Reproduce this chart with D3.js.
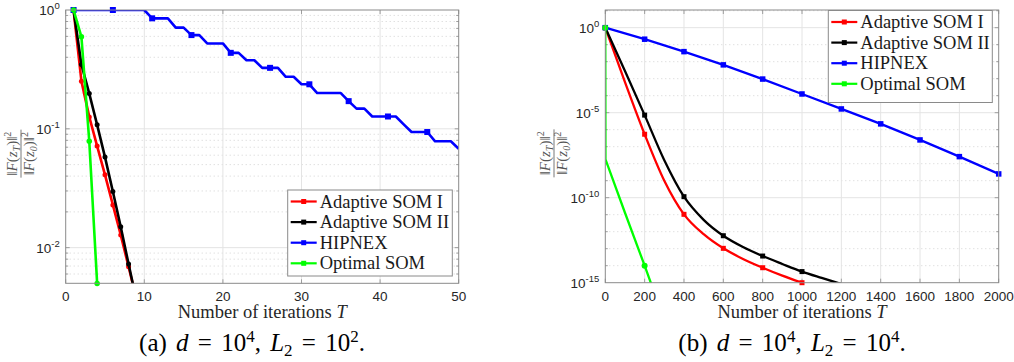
<!DOCTYPE html>
<html>
<head>
<meta charset="utf-8">
<script src="https://cdn.jsdelivr.net/npm/d3@7"></script>
<style>
  body { margin: 0; background: #fff; }
  svg { display: block; }
  .tick-label { font-family: 'Liberation Sans', Arial, sans-serif; font-size: 13.5px; fill: #262626; }
  .serif { font-family: 'Liberation Serif', 'Times New Roman', serif; }
</style>
</head>
<body>
<div id="chart"></div>
<script>
// ---- panel (a): d = 1e4, L2 = 1e2 ----
const aSom1Iter = [1, 2, 3, 4, 5, 6, 7, 8, 9];
const aSom1Val = [1, 0.252, 0.126, 0.0716, 0.041, 0.0229, 0.0128, 0.0069, 0.0037];
const aSom2Iter = [1, 2, 3, 4, 5, 6, 7, 8, 9];
const aSom2Val = [1, 0.348, 0.198, 0.108, 0.0578, 0.0297, 0.0150, 0.00728, 0.0036];
const aOptIter = [1, 2, 3, 4];
const aOptVal = [1, 0.595, 0.0785, 0.005];
// HIPNEX, iterations 1..50
const aHipVal = [
  1, 1, 1, 1, 1, 1, 1, 1, 1, 1,
  0.851, 0.851, 0.851, 0.71, 0.71, 0.615, 0.615, 0.523, 0.523, 0.523,
  0.436, 0.436, 0.378, 0.378, 0.326, 0.326, 0.326, 0.274, 0.274, 0.237,
  0.237, 0.2, 0.2, 0.2, 0.2, 0.171, 0.148, 0.148, 0.127, 0.127,
  0.127, 0.127, 0.109, 0.094, 0.094, 0.094, 0.0785, 0.0785, 0.0785, 0.068
];
const aXTicks = [0, 10, 20, 30, 40, 50];
const aYTicks = [0, -1, -2];   // exponents

// ---- panel (b): d = 1e4, L2 = 1e4 ----
const bSom1Iter = [0, 100, 200, 300, 400, 500, 600, 700, 800, 900, 1000];
const bSom1Val = [1, 6.3e-4, 5.4e-7, 1.0e-9, 1.05e-11, 7.1e-13, 1.05e-13, 2.5e-14, 7.6e-15, 2.6e-15, 1.0e-15];
const bSom2Iter = [0, 100, 200, 300, 400, 500, 600, 700, 800, 900, 1000, 1100, 1200];
const bSom2Val = [1, 2.8e-3, 7.2e-6, 1.6e-8, 1.15e-10, 5.0e-12, 5.8e-13, 1.26e-13, 3.7e-14, 1.26e-14, 4.5e-15, 1.9e-15, 8.3e-16];
const bHipIter = [0, 200, 400, 600, 800, 1000, 1200, 1400, 1600, 1800, 2000];
const bHipVal = [1, 0.21, 0.039, 6.5e-3, 9.5e-4, 1.26e-4, 1.66e-5, 2.2e-6, 2.5e-7, 2.6e-8, 2.5e-9];
const bOptIter = [0, 1, 100, 200, 250];
const bOptVal = [1, 1.8e-8, 1.3e-11, 1.0e-14, 2.5e-16];
const bXTicks = [0, 200, 400, 600, 800, 1000, 1200, 1400, 1600, 1800, 2000];
const bYTicks = [0, -5, -10, -15];

const legendNames = ['Adaptive SOM I', 'Adaptive SOM II', 'HIPNEX', 'Optimal SOM'];
const colors = ['#ff0000', '#000000', '#0000ff', '#00ff00'];

const width = 1014, height = 362;
const svg = d3.select('#chart').append('svg')
  .attr('width', width)
  .attr('height', height);

function zip(xs, ys) { return xs.map((x, i) => ({ x, y: ys[i] })); }

function drawPanel(p) {
  const { left, right, top, bottom } = p.box;
  const x = d3.scaleLinear().domain(p.xDomain).range([left, right]);
  const y = d3.scaleLog().domain(p.yDomain).range([bottom, top]);
  const g = svg.append('g');

  // minor grid (dotted)
  g.append('g').selectAll('line')
    .data(p.minorY)
    .join('line')
    .attr('x1', left).attr('x2', right)
    .attr('y1', d => y(d)).attr('y2', d => y(d))
    .attr('stroke', '#c8c8c8')
    .attr('stroke-width', 0.8)
    .attr('stroke-dasharray', '1,3');

  // major grid
  const majorY = p.yTicks.map(e => Math.pow(10, e)).filter(v => y(v) > top + 1 && y(v) < bottom - 1);
  g.append('g').selectAll('line')
    .data(majorY)
    .join('line')
    .attr('x1', left).attr('x2', right)
    .attr('y1', d => y(d)).attr('y2', d => y(d))
    .attr('stroke', '#e4e4e4');
  g.append('g').selectAll('line')
    .data(p.xTicks.slice(1, -1))
    .join('line')
    .attr('x1', d => x(d)).attr('x2', d => x(d))
    .attr('y1', top).attr('y2', bottom)
    .attr('stroke', '#e4e4e4');

  // tick marks (inward, on all four sides)
  const ticks = g.append('g').attr('stroke', '#8a8a8a').attr('stroke-width', 0.8);
  p.xTicks.forEach(t => {
    ticks.append('line').attr('x1', x(t)).attr('x2', x(t)).attr('y1', bottom).attr('y2', bottom - 4);
    ticks.append('line').attr('x1', x(t)).attr('x2', x(t)).attr('y1', top).attr('y2', top + 4);
  });
  p.minorY.concat(majorY).forEach(v => {
    const len = p.minorY.includes(v) ? 2.5 : 4;
    ticks.append('line').attr('x1', left).attr('x2', left + len).attr('y1', y(v)).attr('y2', y(v));
    ticks.append('line').attr('x1', right).attr('x2', right - len).attr('y1', y(v)).attr('y2', y(v));
  });

  // x tick labels
  g.append('g').selectAll('text')
    .data(p.xTicks)
    .join('text')
    .attr('class', 'tick-label')
    .attr('x', d => x(d))
    .attr('y', bottom + 18)
    .attr('text-anchor', 'middle')
    .text(d => d);

  // y tick labels 10^e
  const yl = g.append('g').selectAll('text')
    .data(p.yTicks)
    .join('text')
    .attr('class', 'tick-label')
    .attr('x', left - 6)
    .attr('y', d => y(Math.pow(10, d)) + 5)
    .attr('text-anchor', 'end');
  yl.append('tspan').text('10');
  yl.append('tspan').attr('dy', -6).attr('font-size', 9.5).text(d => d);

  // data lines
  const clipId = 'clip-' + p.id;
  svg.append('clipPath').attr('id', clipId)
    .append('rect').attr('x', left).attr('y', top).attr('width', right - left).attr('height', bottom - top);
  const plot = g.append('g');
  p.series.forEach(s => {
    const pts = zip(s.iter, s.val);
    plot.append('path')
      .datum(pts)
      .attr('clip-path', `url(#${clipId})`)
      .attr('fill', 'none')
      .attr('stroke', s.color)
      .attr('stroke-width', p.lineWidth)
      .attr('stroke-linejoin', 'round')
      .attr('d', d3.line().x(d => x(d.x)).y(d => y(d.y)).curve(s.curve || d3.curveLinear));
    const marks = pts.filter(s.mark).filter(d => d.y >= p.yDomain[0] * 0.98);
    if (s.shape === 'square') {
      plot.append('g').selectAll('rect')
        .data(marks)
        .join('rect')
        .attr('x', d => x(d.x) - s.size / 2)
        .attr('y', d => y(d.y) - s.size / 2)
        .attr('width', s.size).attr('height', s.size)
        .attr('fill', s.color);
    } else {
      plot.append('g').selectAll('circle')
        .data(marks)
        .join('circle')
        .attr('cx', d => x(d.x))
        .attr('cy', d => y(d.y))
        .attr('r', s.size / 2)
        .attr('fill', s.color);
    }
  });

  // axes box
  g.append('rect')
    .attr('x', left).attr('y', top)
    .attr('width', right - left).attr('height', bottom - top)
    .attr('fill', 'none')
    .attr('stroke', '#8a8a8a');

  // legend
  const lg = g.append('g').attr('transform', `translate(${p.legend.x},${p.legend.y})`);
  lg.append('rect')
    .attr('width', p.legend.w).attr('height', p.legend.h)
    .attr('fill', '#fff')
    .attr('stroke', '#8a8a8a');
  legendNames.forEach((name, i) => {
    const cy = 11.5 + i * 20.6;
    lg.append('line')
      .attr('x1', 3).attr('x2', 29).attr('y1', cy).attr('y2', cy)
      .attr('stroke', colors[i]).attr('stroke-width', 2.2);
    lg.append('rect')
      .attr('x', 13.5).attr('y', cy - 2.5).attr('width', 5).attr('height', 5)
      .attr('fill', colors[i]);
    lg.append('text')
      .attr('class', 'serif')
      .attr('x', 32).attr('y', cy + 6)
      .attr('font-size', 18.5)
      .attr('fill', '#1a1a1a')
      .text(name);
  });

  // x axis label
  const xl = g.append('text')
    .attr('class', 'serif')
    .attr('x', (left + right) / 2)
    .attr('y', bottom + 35)
    .attr('text-anchor', 'middle')
    .attr('font-size', 18.5)
    .attr('fill', '#262626');
  xl.append('tspan').text('Number of iterations ');
  xl.append('tspan').attr('font-style', 'italic').text('T');

  // y axis label: ||F(z_T)||^2 / ||F(z_0)||^2
  const fr = g.append('g')
    .attr('class', 'serif')
    .attr('fill', '#555')
    .attr('font-size', 15)
    .attr('transform', `translate(${p.ylabelX},${(top + bottom) / 2 + 7}) rotate(-90)`);
  const frac = (sub, yy) => {
    const t = fr.append('text').attr('y', yy).attr('text-anchor', 'middle');
    t.append('tspan').text('‖');
    t.append('tspan').attr('font-style', 'italic').text('F');
    t.append('tspan').text('(');
    t.append('tspan').attr('font-style', 'italic').text('z');
    t.append('tspan').attr('font-size', 10).attr('dy', 3).attr('font-style', 'italic').text(sub);
    t.append('tspan').attr('dy', -3).text(')‖');
    t.append('tspan').attr('font-size', 10).attr('dy', -6).text('2');
  };
  frac('T', -4);
  fr.append('line').attr('x1', -24).attr('x2', 24).attr('y1', 0).attr('y2', 0)
    .attr('stroke', '#555').attr('stroke-width', 0.8);
  frac('0', 13);

  // caption
  const cap = svg.append('text')
    .attr('class', 'serif')
    .attr('x', p.captionX)
    .attr('y', 351)
    .attr('text-anchor', 'middle')
    .attr('font-size', 25)
    .attr('word-spacing', 3)
    .attr('fill', '#000');
  cap.append('tspan').text(p.captionTag + ' ');
  cap.append('tspan').attr('font-style', 'italic').text('d');
  cap.append('tspan').text(' = 10');
  cap.append('tspan').attr('font-size', 17).attr('dy', -9).text('4');
  cap.append('tspan').attr('dy', 9).text(', ');
  cap.append('tspan').attr('font-style', 'italic').text('L');
  cap.append('tspan').attr('font-size', 17).attr('dy', 5).text('2');
  cap.append('tspan').attr('dy', -5).text(' = 10');
  cap.append('tspan').attr('font-size', 17).attr('dy', -9).text(p.captionExp);
  cap.append('tspan').attr('dy', 9).text('.');
}

// minor grid values for panel (a): 2..9 x 10^k
const aMinor = [];
[-3, -2, -1].forEach(e => [2, 3, 4, 5, 6, 7, 8, 9].forEach(m => {
  const v = m * Math.pow(10, e);
  if (v > 0.00501 && v < 1) aMinor.push(v);
}));
// panel (b): every decade not labelled
const bMinor = [];
for (let e = -14; e <= 0; e++) if (!bYTicks.includes(e)) bMinor.push(Math.pow(10, e));
bMinor.push(10);

const all = () => true;
drawPanel({
  id: 'a',
  box: { left: 65.7, right: 458.7, top: 10, bottom: 283.3 },
  xDomain: [0, 50],
  yDomain: [Math.pow(10, -2.3), 1],
  xTicks: aXTicks,
  yTicks: aYTicks,
  minorY: aMinor,
  lineWidth: 2.6,
  series: [
    { iter: aSom1Iter, val: aSom1Val, color: colors[0], mark: all, shape: 'circle', size: 5 },
    { iter: aSom2Iter, val: aSom2Val, color: colors[1], mark: all, shape: 'circle', size: 5 },
    { iter: aHipVal.map((v, i) => i + 1), val: aHipVal, color: colors[2], mark: d => (d.x - 1) % 5 === 0, shape: 'square', size: 6 },
    { iter: aOptIter, val: aOptVal, color: colors[3], mark: all, shape: 'circle', size: 5.5 }
  ],
  legend: { x: 287.7, y: 190, w: 164.6, h: 86 },
  ylabelX: 21,
  captionX: 252,
  captionTag: '(a)',
  captionExp: '2'
});

drawPanel({
  id: 'b',
  box: { left: 605.3, right: 998.7, top: 10, bottom: 282.7 },
  xDomain: [0, 2000],
  yDomain: [1e-15, Math.pow(10, 1.04)],
  xTicks: bXTicks,
  yTicks: bYTicks,
  minorY: bMinor,
  lineWidth: 2.3,
  series: [
    { iter: bSom1Iter, val: bSom1Val, color: colors[0], mark: d => d.x % 200 === 0, shape: 'square', size: 5, curve: d3.curveMonotoneX },
    { iter: bSom2Iter, val: bSom2Val, color: colors[1], mark: d => d.x % 200 === 0, shape: 'square', size: 5, curve: d3.curveMonotoneX },
    { iter: bHipIter, val: bHipVal, color: colors[2], mark: d => d.x % 200 === 0, shape: 'square', size: 5.5 },
    { iter: bOptIter, val: bOptVal, color: colors[3], mark: d => d.x % 200 === 0, shape: 'circle', size: 6 }
  ],
  legend: { x: 828.3, y: 10.5, w: 164, h: 92 },
  ylabelX: 554,
  captionX: 792,
  captionTag: '(b)',
  captionExp: '4'
});
</script>
</body>
</html>
